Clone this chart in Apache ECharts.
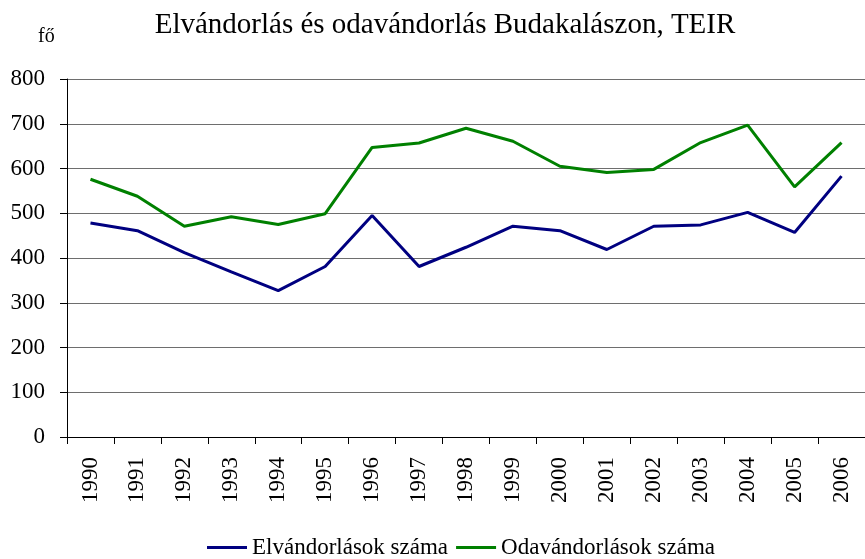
<!DOCTYPE html>
<html>
<head>
<meta charset="utf-8">
<script src="https://cdn.jsdelivr.net/npm/echarts@6/dist/echarts.min.js"></script>
<style>
  html, body { margin: 0; padding: 0; background: #fff; }
  #chart { width: 865px; height: 559px; }
</style>
</head>
<body>
<div id="chart"></div>
<script>
  var years = ['1990', '1991', '1992', '1993', '1994', '1995', '1996', '1997', '1998',
    '1999', '2000', '2001', '2002', '2003', '2004', '2005', '2006'];
  // Elvándorlások száma
  var elvandorlas = [478, 461, 412, 369, 327, 381, 495, 381, 424, 471, 461, 419, 471, 474, 502, 457, 583];
  // Odavándorlások száma
  var odavandorlas = [576, 538, 471, 492, 475, 499, 647, 657, 690, 661, 605, 591, 598, 658, 697, 559, 658];

  var font = 'Liberation Serif';
  var chart = echarts.init(document.getElementById('chart'));

  chart.setOption({
    animation: false,
    textStyle: { fontFamily: font },
    title: [{
      text: 'Elvándorlás és odavándorlás Budakalászon, TEIR',
      left: 440, top: 6, textAlign: 'center',
      textStyle: { fontFamily: font, fontSize: 29, fontWeight: 'normal', color: '#000' }
    }, {
      text: 'fő',
      left: 33, top: 22,
      textStyle: { fontFamily: font, fontSize: 20, fontWeight: 'normal', color: '#000' }
    }],
    legend: {
      top: 536,
      left: 207,
      padding: 0,
      icon: 'rect',
      itemWidth: 40,
      itemHeight: 3,
      itemGap: 8,
      textStyle: { fontFamily: font, fontSize: 23, color: '#000' },
      data: ['Elvándorlások száma', 'Odavándorlások száma']
    },
    grid: { left: 67, right: 0, top: 79, bottom: 122 },
    xAxis: {
      type: 'category',
      data: years,
      axisLine: { lineStyle: { color: '#000', width: 1 } },
      axisTick: { show: true, length: 7, lineStyle: { color: '#000' } },
      axisLabel: { rotate: 90, margin: 20, fontFamily: font, fontSize: 23, color: '#000' }
    },
    yAxis: {
      type: 'value',
      min: 0, max: 800, interval: 100,
      axisLine: { show: true, lineStyle: { color: '#000', width: 1 } },
      axisTick: { show: true, length: 7, lineStyle: { color: '#000' } },
      axisLabel: { margin: 22, fontFamily: font, fontSize: 23, color: '#000' },
      splitLine: { lineStyle: { color: '#6e6e6e', width: 1.2 } }
    },
    series: [{
      name: 'Elvándorlások száma',
      type: 'line',
      data: elvandorlas,
      symbol: 'none',
      color: '#000080',
      lineStyle: { width: 3, color: '#000080' }
    }, {
      name: 'Odavándorlások száma',
      type: 'line',
      data: odavandorlas,
      symbol: 'none',
      color: '#008000',
      lineStyle: { width: 3, color: '#008000' }
    }]
  });
</script>
</body>
</html>
